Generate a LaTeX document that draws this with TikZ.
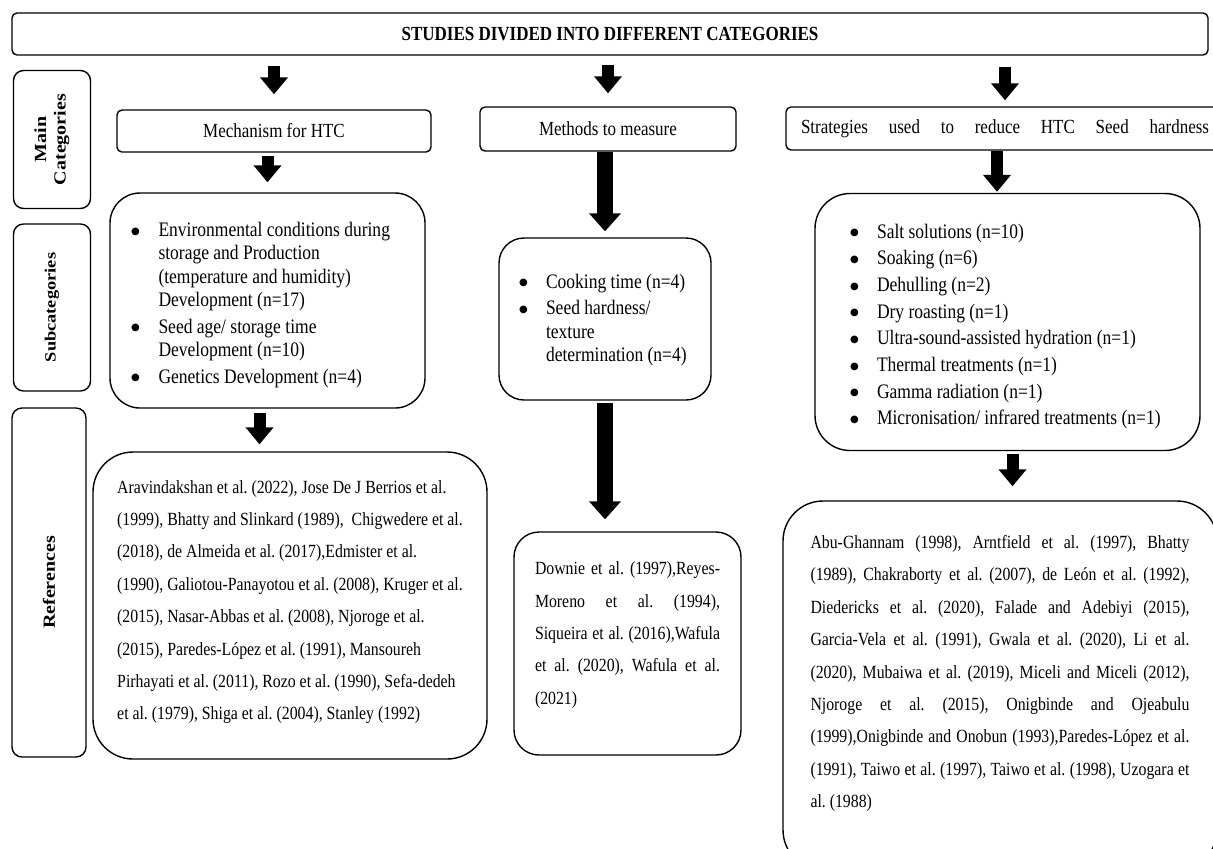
\documentclass[tikz,border=0pt]{standalone}
\usepackage{fontspec}
\usepackage{graphicx}
\setmainfont{Liberation Serif}[FakeStretch=0.85]
\newfontfamily\sidefont{Liberation Serif}
\newfontfamily\dotfont{DejaVu Sans}
\usetikzlibrary{positioning,arrows.meta}

\newcommand{\spreadline}[2]{\makebox[#1][s]{#2}}
\newcommand{\bigbullet}{\raisebox{1.2pt}{\dotfont\fontsize{5}{5}\selectfont ●}}
\newenvironment{bulletlist}[1]{%
  \begin{list}{\bigbullet}{%
    \setlength{\leftmargin}{#1}\setlength{\labelwidth}{#1}%
    \setlength{\labelsep}{0pt}\setlength{\itemsep}{1.7pt}%
    \setlength{\topsep}{0pt}\setlength{\partopsep}{0pt}%
    \setlength{\parsep}{0pt}%
    \renewcommand{\makelabel}[1]{##1\hfil}}}%
  {\end{list}}

\begin{document}
\frenchspacing
\begin{tikzpicture}[
    x=0.5pt, y=-0.5pt,
    every node/.style={rectangle, draw, line width=0.7pt, inner sep=0pt, align=center},
    headbox/.style={rounded corners=2.5pt, font=\fontsize{10}{12}\selectfont},
    sidebox/.style={rounded corners=5pt, font=\sidefont\bfseries\fontsize{10}{11.5}\selectfont},
    subbox/.style={rounded corners=15pt, align=flush left, font=\fontsize{10.3}{11.65}\selectfont},
    refbox/.style={rounded corners=20pt, align=flush left, font=\fontsize{9.3}{16.2}\selectfont},
    blockarrow/.style={draw, line width=6pt, -{Triangle[width=13.5pt,length=8.5pt]}},
    longarrow/.style={draw, line width=8pt, -{Triangle[width=15.5pt,length=9pt]}},
  ]
  \clip (0,0) rectangle (1213,848);
  \node[headbox, font=\bfseries\fontsize{10}{12}\selectfont, minimum width=598pt, minimum height=21pt] (title) at (610,34)
    {STUDIES DIVIDED INTO DIFFERENT CATEGORIES};

  \node[sidebox, minimum width=38.5pt, minimum height=69pt] (mainlbl) at (52,139.5)
    {\rotatebox{90}{\scalebox{1}[0.85]{\begin{tabular}{@{}c@{}}Main\\Categories\end{tabular}}}};
  \node[sidebox, font=\sidefont\bfseries\fontsize{9.2}{11}\selectfont, minimum width=38.5pt, minimum height=83.5pt] (sublbl) at (52,307.5)
    {\rotatebox{90}{\scalebox{1}[0.85]{Subcategories}}};
  \node[sidebox, minimum width=37pt, minimum height=174.5pt] (reflbl) at (49,582.5)
    {\rotatebox{90}{\scalebox{1}[0.85]{References}}};

  \node[headbox, minimum width=157pt, minimum height=21pt] (mech) at (274,131) {Mechanism for HTC};
  \node[headbox, minimum width=128pt, minimum height=22pt] (meth) at (608,129) {Methods to measure};
  \node[headbox, minimum width=219pt, minimum height=21.5pt] (strat) at (1005,128.5)
    {\spreadline{204pt}{Strategies used to reduce HTC Seed hardness}};

  \node[subbox, minimum width=157.5pt, minimum height=107.5pt, inner xsep=10.5pt, text width=136.5pt] (sub1) at (267.5,300.5)
    {\begin{bulletlist}{13.75pt}
     \item Environmental conditions during\\ storage and Production\\ (temperature and humidity)\\ Development (n=17)
     \item Seed age/ storage time\\ Development (n=10)
     \item Genetics Development (n=4)
     \end{bulletlist}};
  \node[subbox, rounded corners=12.5pt, minimum width=106pt, minimum height=81pt, inner xsep=10pt, text width=86pt] (sub2) at (605,319)
    {\begin{bulletlist}{13.5pt}
     \item Cooking time (n=4)
     \item Seed hardness/\\ texture\\ determination (n=4)\rule[-6pt]{0pt}{0pt}
     \end{bulletlist}};
  \node[subbox, rounded corners=17.5pt, minimum width=192.5pt, minimum height=128.5pt, inner xsep=17.5pt, text width=157.5pt] (sub3) at (1007.5,322)
    {\begin{bulletlist}{13.5pt}
     \item Salt solutions (n=10)
     \item Soaking (n=6)
     \item Dehulling (n=2)
     \item Dry roasting (n=1)
     \item Ultra-sound-assisted hydration (n=1)
     \item Thermal treatments (n=1)
     \item Gamma radiation (n=1)
     \item Micronisation/ infrared treatments (n=1)
     \end{bulletlist}};

  \node[refbox, minimum width=197pt, minimum height=153.5pt] (ref1) at (290,605.5)
    {Aravindakshan et al. (2022), Jose De J Berrios et al.\\
     (1999), Bhatty and Slinkard (1989), \ Chigwedere et al.\\
     (2018), de Almeida et al. (2017),Edmister et al.\\
     (1990), Galiotou-Panayotou et al. (2008), Kruger et al.\\
     (2015), Nasar-Abbas et al. (2008), Njoroge et al.\\
     (2015), Paredes-López et al. (1991), Mansoureh\\
     Pirhayati et al. (2011), Rozo et al. (1990), Sefa-dedeh\\
     et al. (1979), Shiga et al. (2004), Stanley (1992)\rule[-5.5pt]{0pt}{0pt}};
  \node[refbox, rounded corners=12.5pt, minimum width=113.5pt, minimum height=111.5pt] (ref2) at (627.5,643.5)
    {\spreadline{92.5pt}{Downie et al. (1997),Reyes-}\\
     \spreadline{92.5pt}{Moreno et al. (1994),}\\
     \spreadline{92.5pt}{Siqueira et al. (2016),Wafula}\\
     \spreadline{92.5pt}{et al. (2020), Wafula et al.}\\
     (2021)\rule[-10.5pt]{0pt}{0pt}};
  \node[refbox, minimum width=217pt, minimum height=184.5pt] (ref3) at (1000,685.5)
    {\spreadline{189.5pt}{Abu-Ghannam (1998), Arntfield et al. (1997), Bhatty}\\
     \spreadline{189.5pt}{(1989), Chakraborty et al. (2007), de León et al. (1992),}\\
     \spreadline{189.5pt}{Diedericks et al. (2020), Falade and Adebiyi (2015),}\\
     \spreadline{189.5pt}{Garcia-Vela et al. (1991), Gwala et al. (2020), Li et al.}\\
     \spreadline{189.5pt}{(2020), Mubaiwa et al. (2019), Miceli and Miceli (2012),}\\
     \spreadline{189.5pt}{Njoroge et al. (2015), Onigbinde and Ojeabulu}\\
     \spreadline{189.5pt}{(1999),Onigbinde and Onobun (1993),Paredes-López et al.}\\
     \spreadline{189.5pt}{(1991), Taiwo et al. (1997), Taiwo et al. (1998), Uzogara et}\\
     al. (1988)\rule[-14pt]{0pt}{0pt}};

  \draw[blockarrow, shorten <=5pt, shorten >=7.5pt] (title.south -| mech.north) -- (mech.north);
  \draw[blockarrow, shorten <=1.5pt, shorten >=5pt] (mech.south -| sub1.north) -- (sub1.north);
  \draw[blockarrow, shorten <=2pt, shorten >=3.5pt] ([xshift=-4pt]sub1.south) -- ([xshift=-4pt]sub1.south |- ref1.north);
  \draw[blockarrow, shorten <=4.5pt, shorten >=6.5pt] (title.south -| meth.north) -- (meth.north);
  \draw[longarrow, shorten >=3pt] (meth.south -| sub2.north) -- (sub2.north);
  \draw[longarrow, shorten <=1pt, shorten >=6pt] (sub2.south) -- (sub2.south |- ref2.north);
  \draw[blockarrow, shorten <=5.5pt, shorten >=3pt] (title.south -| strat.north) -- (strat.north);
  \draw[blockarrow, shorten >=0.5pt] ([xshift=-4pt]strat.south) -- ([xshift=-4pt]strat.south |- sub3.north);
  \draw[blockarrow, shorten <=1.5pt, shorten >=7pt] ([xshift=2.5pt]sub3.south) -- ([xshift=2.5pt]sub3.south |- ref3.north);
\end{tikzpicture}
\end{document}
